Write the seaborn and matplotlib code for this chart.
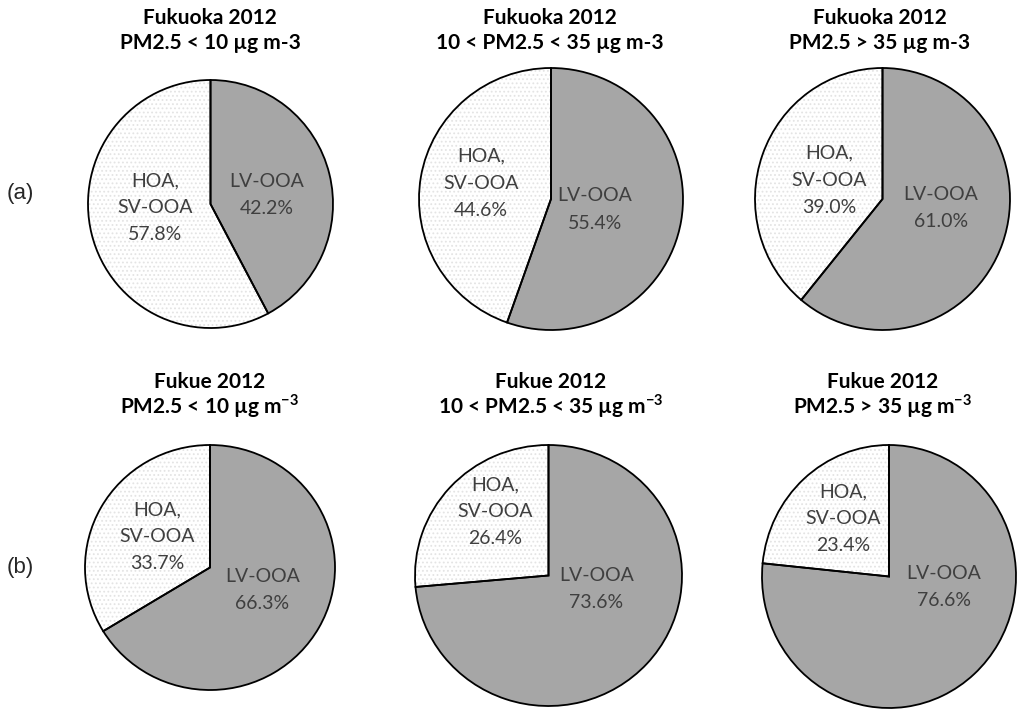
import numpy as np
import matplotlib
matplotlib.use('Agg')
from matplotlib import pyplot as plt
import seaborn as sns

# values (percent of OA)
sites = ['Fukuoka 2012', 'Fukuoka 2012', 'Fukuoka 2012',
         'Fukue 2012', 'Fukue 2012', 'Fukue 2012']
pm_ranges = ['PM2.5 < 10', '10 < PM2.5 < 35', 'PM2.5 > 35',
             'PM2.5 < 10', '10 < PM2.5 < 35', 'PM2.5 > 35']
units = ['µg m-3'] * 3 + [r'µg m$^{\mathbf{-3}}$'] * 3
lv_ooa = [42.2, 55.4, 61.0, 66.3, 73.6, 76.6]
hoa_sv_ooa = [57.8, 44.6, 39.0, 33.7, 26.4, 23.4]
panel_labels = ['(a)', '(b)']

sns.set_theme(style='white')
plt.rcParams['font.family'] = ['Lato', 'DejaVu Sans']
plt.rcParams['mathtext.fontset'] = 'custom'
plt.rcParams['mathtext.rm'] = 'Lato'
plt.rcParams['mathtext.bf'] = 'Lato:bold'
plt.rcParams['hatch.linewidth'] = 0.8

colors = ['#a6a6a6', 'white']
text_col = '#3f3f3f'

W, H = 1024, 709
fig = plt.figure(figsize=(W / 100, H / 100), dpi=100)
fig.patch.set_facecolor('white')

# pie bounding boxes in pixels (x0, y0, x1, y1)
boxes = [(88, 80, 333, 328), (419, 68, 683, 330), (755, 68, 1010, 330),
         (85, 445, 335, 690), (415, 445, 682, 706), (762, 445, 1016, 708)]
# label offsets inside each pie (data units, radius = 1)
hoa_pos = [(-0.45, -0.03), (-0.53, 0.12), (-0.42, 0.145),
           (-0.42, 0.25), (-0.40, 0.49), (-0.36, 0.44)]
lv_pos = [(0.46, 0.07), (0.33, -0.08), (0.46, -0.07),
          (0.42, -0.18), (0.36, -0.10), (0.43, -0.08)]
title_x = [210, 550, 880, 210, 551, 883]
title_base1 = [24, 24, 24, 388, 388, 388]
title_base2 = [49, 49, 49, 413, 413, 413]

for i in range(6):
    x0, y0, x1, y1 = boxes[i]
    ax = fig.add_axes([x0 / W, 1 - y1 / H, (x1 - x0) / W, (y1 - y0) / H])
    vals = [lv_ooa[i], hoa_sv_ooa[i]]

    # fill layer with faint stipple on the HOA slice
    fills, _ = ax.pie(vals, startangle=90, counterclock=False, colors=colors,
                      wedgeprops=dict(edgecolor='#e4e4e4', linewidth=0))
    fills[1].set_hatch('....')
    # outline layer
    outl, _ = ax.pie(vals, startangle=90, counterclock=False,
                     wedgeprops=dict(fill=False, edgecolor='black', linewidth=1.3))
    for w in list(fills) + list(outl):
        w.set_clip_on(False)

    ax.set_aspect('auto')
    ax.set_xlim(-1, 1)
    ax.set_ylim(-1, 1)
    ax.axis('off')

    ax.text(*hoa_pos[i], 'HOA,\nSV-OOA\n%.1f%%' % hoa_sv_ooa[i], ha='center', va='center',
            fontsize=14, color=text_col, linespacing=1.72)
    ax.text(*lv_pos[i], 'LV-OOA\n%.1f%%' % lv_ooa[i], ha='center', va='center',
            fontsize=14, color=text_col, linespacing=1.72)

    fig.text(title_x[i] / W, 1 - title_base1[i] / H, sites[i],
             ha='center', va='baseline', fontsize=15, fontweight='bold', color='black')
    fig.text(title_x[i] / W, 1 - title_base2[i] / H, '%s %s' % (pm_ranges[i], units[i]),
             ha='center', va='baseline', fontsize=15, fontweight='bold', color='black')

fig.text(7 / W, 1 - 193 / H, panel_labels[0], ha='left', va='center', fontsize=16,
         family=['Liberation Sans', 'DejaVu Sans'])
fig.text(7 / W, 1 - 568 / H, panel_labels[1], ha='left', va='center', fontsize=16,
         family=['Liberation Sans', 'DejaVu Sans'])

fig.savefig('out.png', dpi=100, facecolor='white')
